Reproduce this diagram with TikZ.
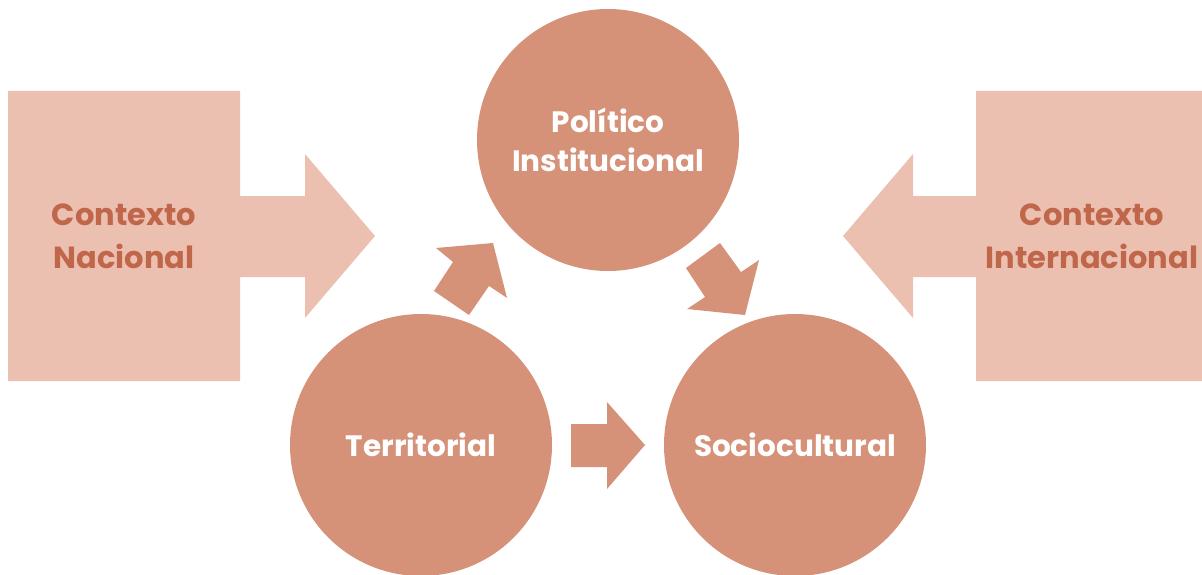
\documentclass[tikz,border=0pt]{standalone}
\usepackage{fontspec}
\setmainfont{Poppins}
\definecolor{boxfill}{HTML}{EBC0B0}
\definecolor{circfill}{HTML}{D59279}
\definecolor{boxtext}{HTML}{C0664A}
\begin{document}
\begin{tikzpicture}[x=1pt,y=-1pt,
  bigcirc/.style={circle,fill=circfill,draw=none,minimum size=262pt,inner sep=0pt,
    text=white,font=\fontsize{29.5}{39}\selectfont\bfseries,align=center},
  ctxtext/.style={text=boxtext,font=\fontsize{30.5}{43}\selectfont\bfseries,align=center,inner sep=0pt},
  ctxshape/.style={fill=boxfill,draw=none},
  blockarrow/.style={fill=circfill,draw=none}]
\useasboundingbox (0,0) rectangle (1202,575);
% context shapes
\fill[ctxshape] (8,91) -- (240,91) -- (240,196) -- (305,196) -- (305,154) -- (375,236)
  -- (305,318) -- (305,277) -- (240,277) -- (240,381) -- (8,381) -- cycle;
\fill[ctxshape] (1202,91) -- (976,91) -- (976,196) -- (913,196) -- (913,154) -- (843,236)
  -- (913,318) -- (913,277) -- (976,277) -- (976,381) -- (1202,381) -- cycle;
\node[ctxtext] (nac) at (124,236) {Contexto\\Nacional};
\node[ctxtext] (int) at (1092,236) {Contexto\\Internacional};
% circles
\node[bigcirc] (pol) at (608,140) {Político\\Institucional};
\node[bigcirc] (ter) at (421,445) {Territorial};
\node[bigcirc] (soc) at (795,445) {Sociocultural};
% small arrows
\fill[blockarrow] (571,424) -- (607,424) -- (607,402) -- (645,445) -- (607,489) -- (607,467) -- (571,467) -- cycle;
\fill[blockarrow] (434,291) -- (453,262) -- (436,248) -- (493,243) -- (507,298) -- (489,286) -- (469,315) -- cycle;
\fill[blockarrow] (686,268) -- (720,243) -- (741,272) -- (759,260) -- (745,315) -- (687,309) -- (705,297) -- cycle;
\end{tikzpicture}
\end{document}
